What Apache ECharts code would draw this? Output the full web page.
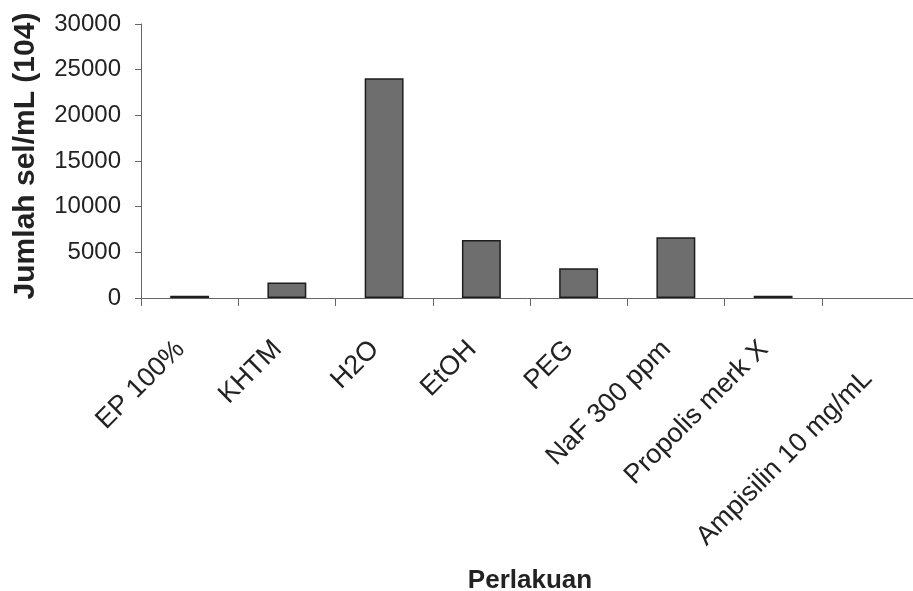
<!DOCTYPE html>
<html>
<head>
<meta charset="utf-8">
<script src="https://cdn.jsdelivr.net/npm/echarts@6/dist/echarts.min.js"></script>
<style>
html,body{margin:0;padding:0;background:#fff;}
#chart{width:913px;height:591px;}
</style>
</head>
<body>
<div id="chart"></div>
<script>
const categories = ["EP 100%", "KHTM", "H2O", "EtOH", "PEG", "NaF 300 ppm", "Propolis merk X", "Ampisilin 10 mg/mL"];
const values = [250, 1700, 24050, 6350, 3250, 6650, 250, null];
const yTicks = { min: 0, max: 30000, interval: 5000 };
const xTitle = "Perlakuan";
const yTitle = "Jumlah sel/mL (104)";

const catData = categories.map(function (c, i) {
  return i === categories.length - 1
    ? { value: c, textStyle: { verticalAlign: 'top', padding: [12, 29, 0, 0] } }
    : c;
});

const chart = echarts.init(document.getElementById('chart'), null, { renderer: 'canvas' });
chart.setOption({
  backgroundColor: '#ffffff',
  animation: false,
  grid: { left: 141, top: 24, right: -6, bottom: 293, containLabel: false, outerBoundsMode: 'none' },
  xAxis: {
    type: 'category',
    data: catData,
    name: xTitle,
    nameLocation: 'middle',
    nameGap: 270,
    nameTextStyle: { fontFamily: 'Liberation Sans, Arial, sans-serif', fontWeight: 'bold', fontSize: 26, color: '#222' },
    axisLine: { lineStyle: { color: '#666', width: 1 } },
    axisTick: { show: true, length: 8, inside: false, alignWithLabel: false, lineStyle: { color: '#666' } },
    axisLabel: { rotate: 45, margin: 38, padding: [0, 13, 0, 0], fontFamily: 'Liberation Sans, Arial, sans-serif', fontSize: 27, color: '#222', interval: 0, hideOverlap: false }
  },
  yAxis: {
    type: 'value',
    min: yTicks.min, max: yTicks.max, interval: yTicks.interval,
    name: yTitle,
    nameLocation: 'middle',
    nameGap: 100,
    nameRotate: 90,
    nameTextStyle: { fontFamily: 'Liberation Sans, Arial, sans-serif', fontWeight: 'bold', fontSize: 30, color: '#222', padding: [0, 0, 0, 10] },
    axisLine: { show: true, lineStyle: { color: '#666', width: 1 } },
    axisTick: { show: true, length: 6, lineStyle: { color: '#666' } },
    splitLine: { show: false },
    axisLabel: { margin: 20, formatter: function (v) { return String(v); }, fontFamily: 'Liberation Sans, Arial, sans-serif', fontSize: 24, color: '#222' }
  },
  series: [{
    type: 'bar',
    data: values,
    barWidth: '40%',
    itemStyle: { color: '#6e6e6e', borderColor: '#1e1e1e', borderWidth: 1.5 }
  }]
});
</script>
</body>
</html>
